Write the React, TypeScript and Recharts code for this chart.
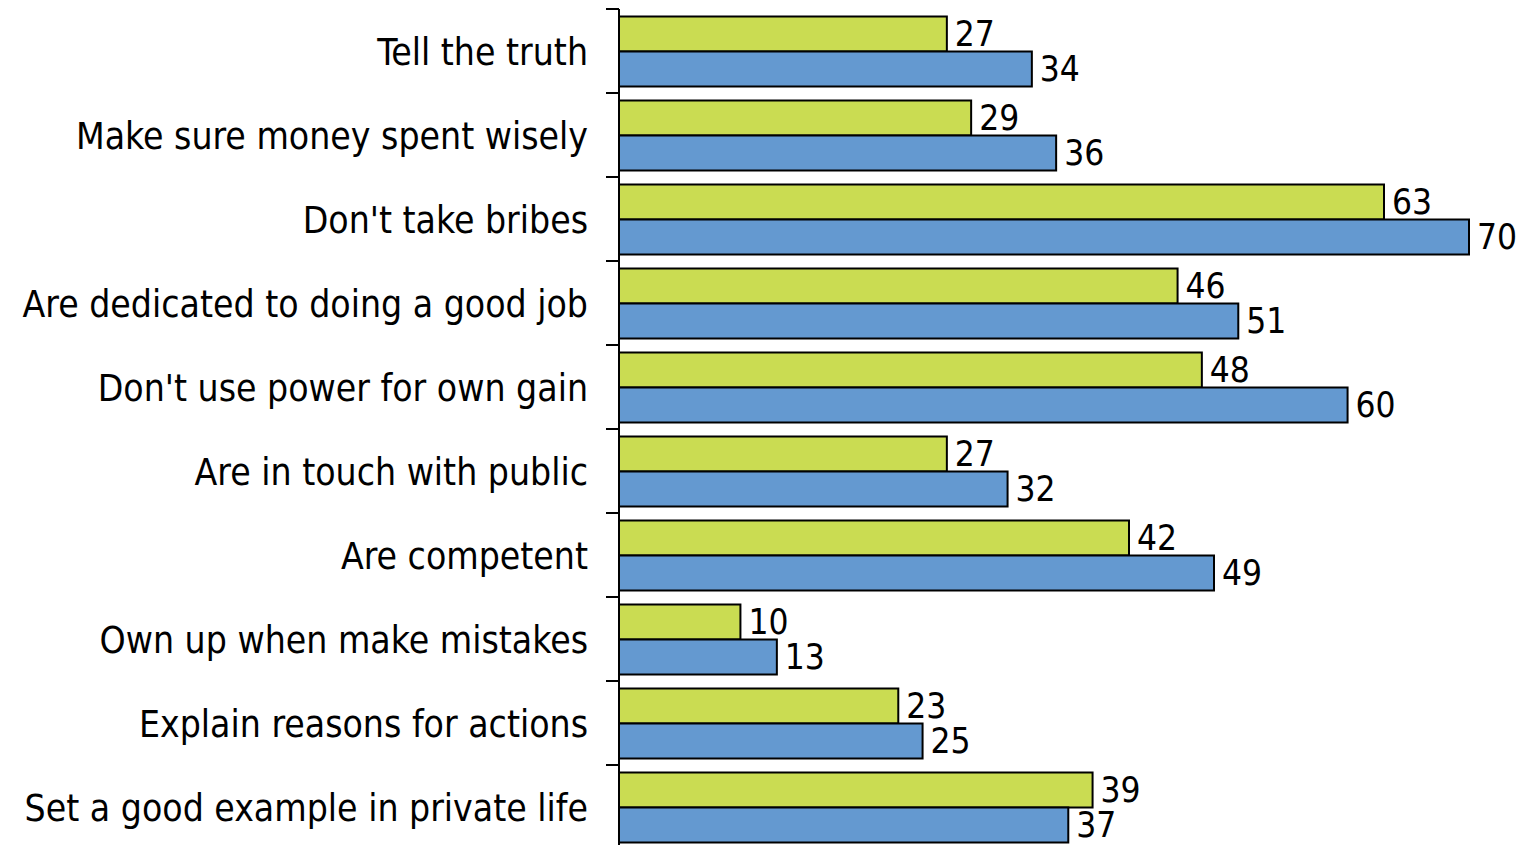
import { BarChart, Bar, XAxis, YAxis, LabelList } from 'recharts';

const categories = [
  'Tell the truth',
  'Make sure money spent wisely',
  "Don't take bribes",
  'Are dedicated to doing a good job',
  "Don't use power for own gain",
  'Are in touch with public',
  'Are competent',
  'Own up when make mistakes',
  'Explain reasons for actions',
  'Set a good example in private life',
];
const greenValues = [27, 29, 63, 46, 48, 27, 42, 10, 23, 39];
const blueValues = [34, 36, 70, 51, 60, 32, 49, 13, 25, 37];

const data = categories.map((name, i) => ({ name, green: greenValues[i], blue: blueValues[i] }));

const W = 1524;
const H = 850;
const TOP = 9;
const BOTTOM = 1;
const AXIS_W = 619;
const BAND = (H - TOP - BOTTOM) / categories.length;
const FONT = '"DejaVu Sans Condensed", "DejaVu Sans", Tahoma, sans-serif';

function CatTick(props: any) {
  const { y, payload } = props;
  const top = y - BAND / 2;
  return (
    <g>
      <line x1={AXIS_W - 13} x2={AXIS_W} y1={top} y2={top} stroke="#000" strokeWidth={2} />
      <text x={AXIS_W - 31} y={y + 1} textAnchor="end" dominantBaseline="central"
        fontFamily={FONT} fontSize={37} fill="#000">
        {payload.value}
      </text>
    </g>
  );
}

const labelStyle = { fontFamily: FONT, fontSize: 35, fill: '#000' };

export default function App() {
  return (
    <div style={{ position: 'fixed', left: 0, top: 0, width: W, height: 845, overflow: 'hidden', background: '#fff' }}>
      <BarChart width={W} height={H} data={data} layout="vertical"
        margin={{ top: TOP, right: 55, bottom: BOTTOM, left: 0 }}
        barCategoryGap={7.5} barGap={0}>
        <XAxis type="number" domain={[0, 70]} hide />
        <YAxis type="category" dataKey="name" width={AXIS_W} interval={0}
          tickLine={false} axisLine={{ stroke: '#000', strokeWidth: 2 }} tick={<CatTick />} />
        <Bar dataKey="green" fill="#cadc52" stroke="#000" strokeWidth={2} isAnimationActive={false}>
          <LabelList dataKey="green" position="right" offset={8} style={labelStyle} />
        </Bar>
        <Bar dataKey="blue" fill="#6499d0" stroke="#000" strokeWidth={2} isAnimationActive={false}>
          <LabelList dataKey="blue" position="right" offset={8} style={labelStyle} />
        </Bar>
      </BarChart>
    </div>
  );
}
